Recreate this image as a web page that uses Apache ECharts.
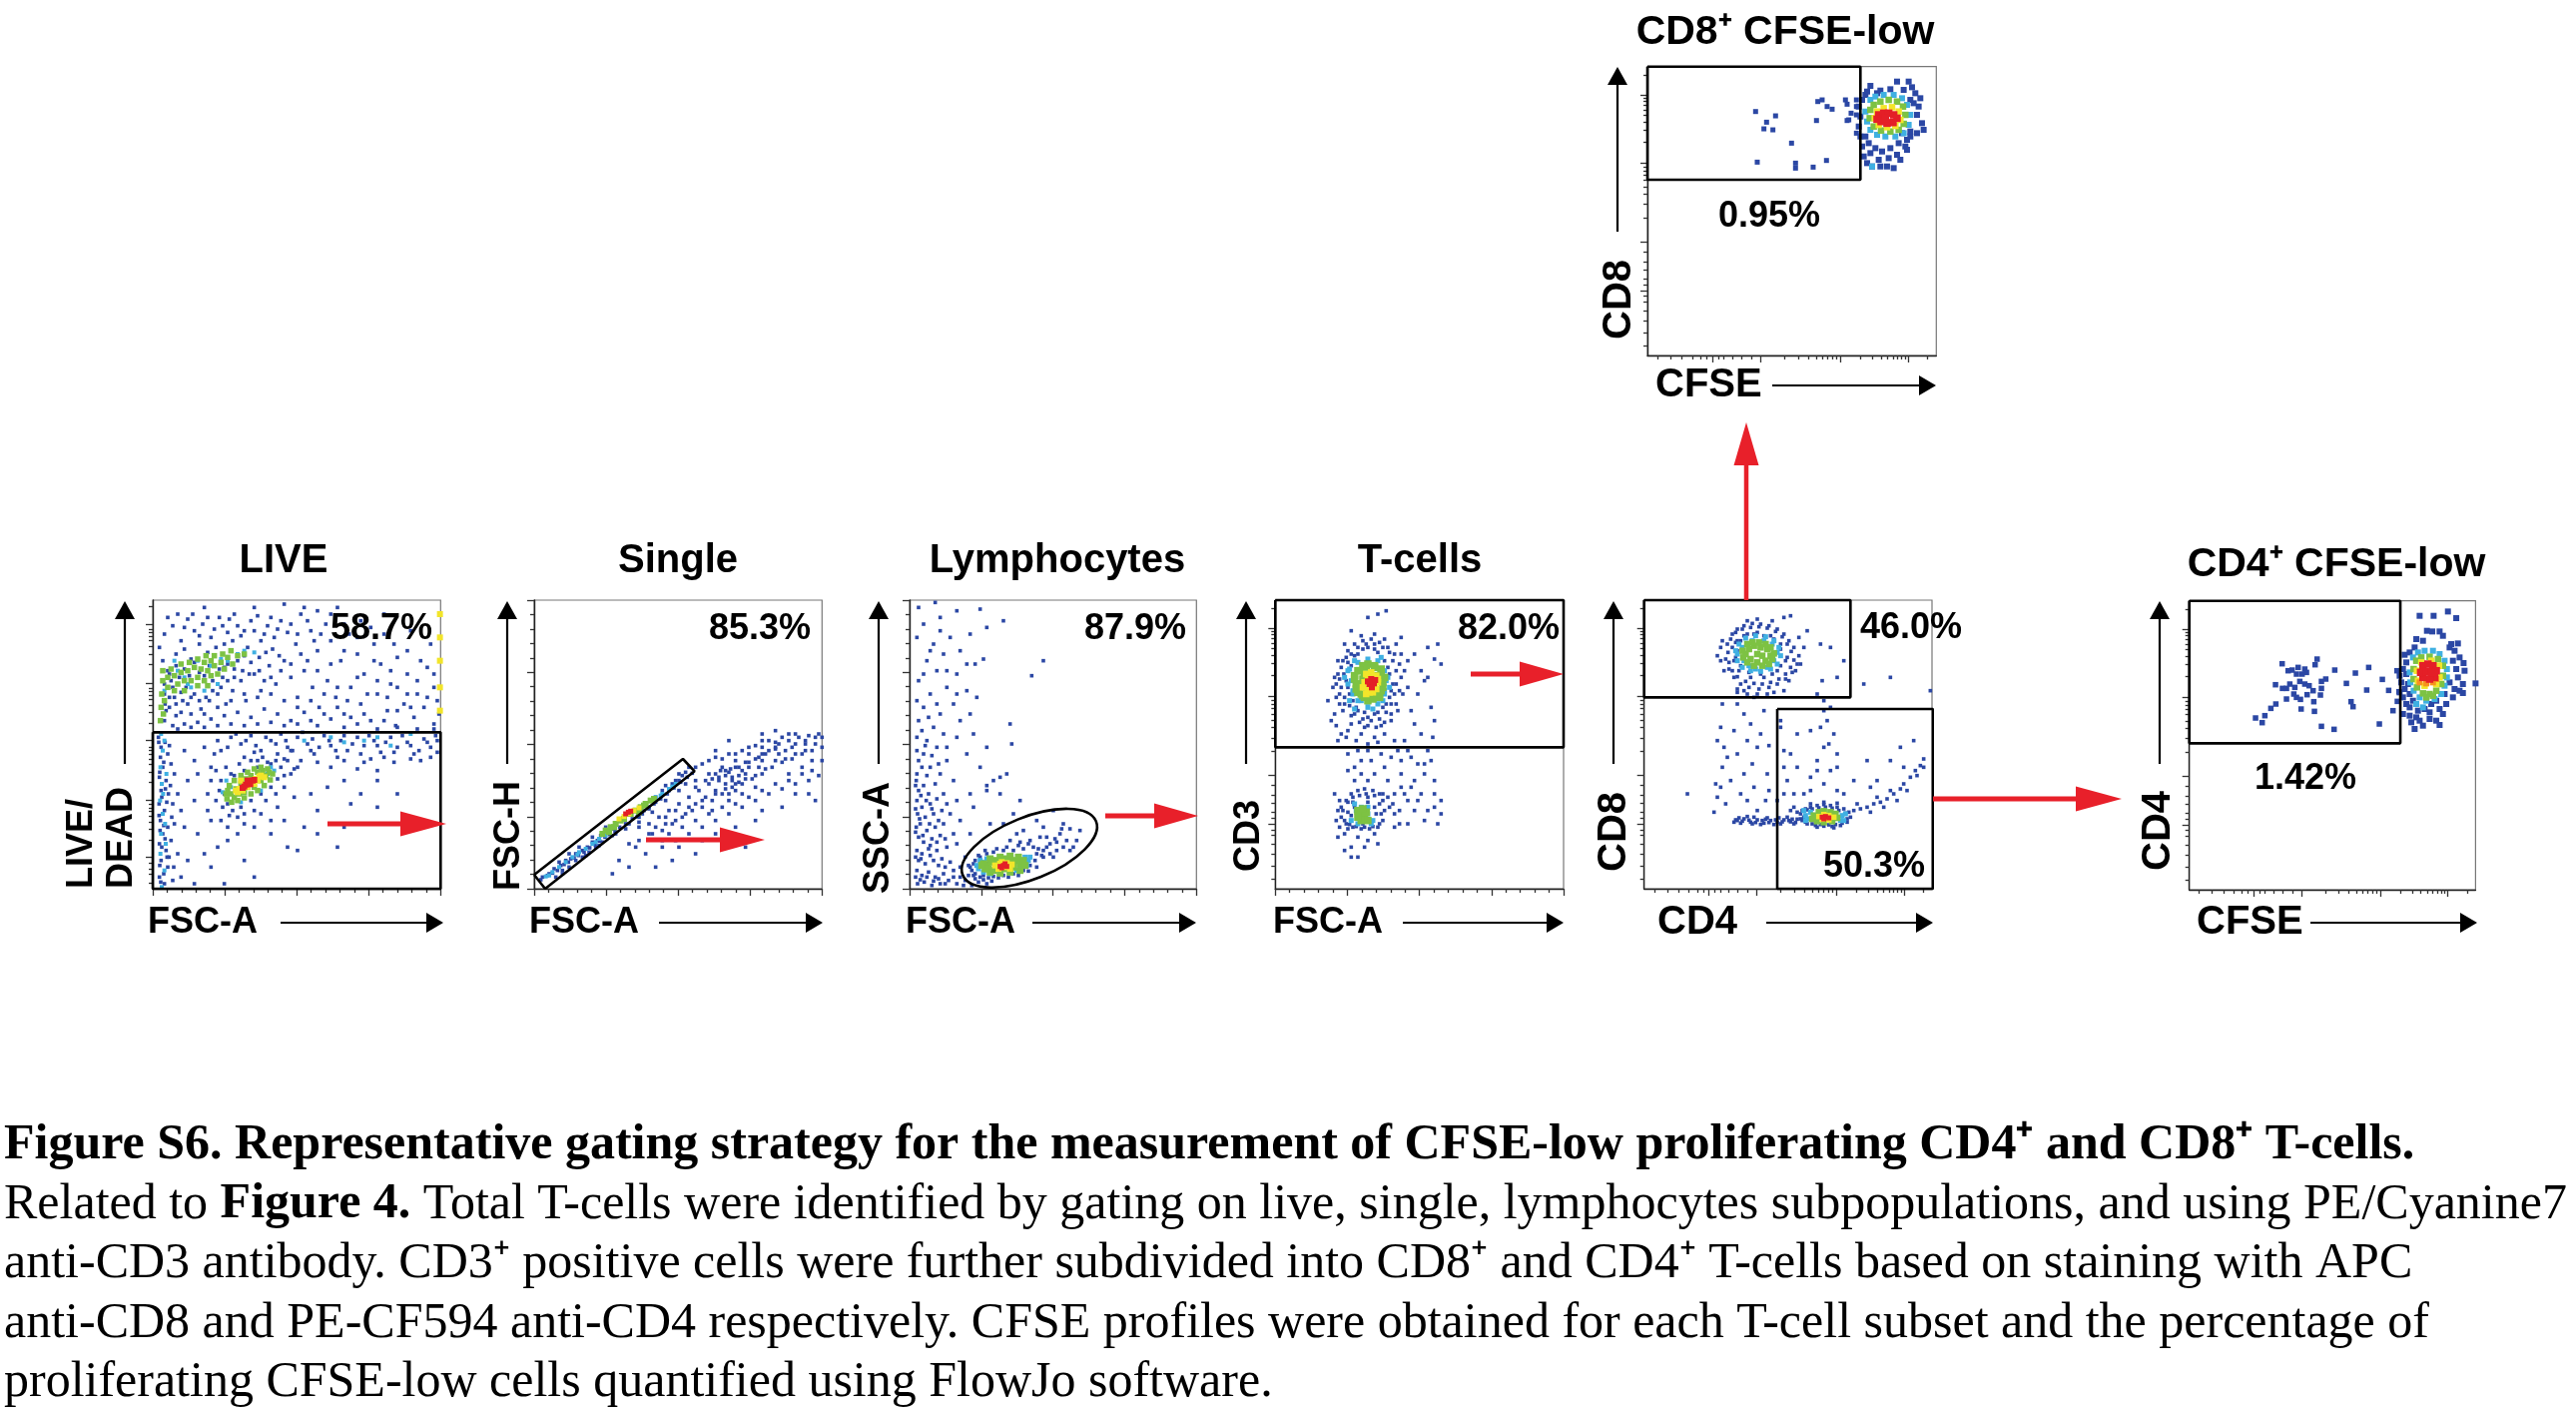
<!DOCTYPE html>
<html>
<head>
<meta charset="UTF-8" />
<title>Figure S6 - gating strategy</title>
<script src="https://cdn.jsdelivr.net/npm/echarts@6/dist/echarts.min.js"></script>
<style>
  html, body { margin: 0; padding: 0; background: #fff; }
  #chart { width: 2580px; height: 1418px; }
</style>
</head>
<body>
<div id="chart"></div>
<script>
// ---- events (channel units of that plot, y grows downward) ----
const LIVE_BLUE = [[60,120],[85,95],[110,140],[130,75],[150,110],[175,90],[200,130],[225,70],[250,115],[270,60],[95,180],[120,165],[140,195],[165,150],[190,175],[215,160],[240,150],[265,140],[290,125],[310,160],[330,110],[350,140],[370,95],[390,130],[410,80],[430,115],[455,150],[470,60],[500,110],[520,170],[545,90],[560,140],[590,200],[615,120],[640,180],[660,240],[690,150],[710,210],[740,270],[760,190],[790,240],[820,300],[850,220],[870,280],[60,300],[75,340],[90,310],[110,355],[130,330],[150,300],[170,345],[195,320],[220,300],[245,330],[265,290],[290,260],[305,320],[330,240],[350,290],[375,215],[395,270],[420,200],[440,250],[460,310],[480,230],[505,280],[525,340],[550,260],[575,310],[600,360],[620,280],[650,330],[680,380],[700,300],[730,350],[755,395],[780,330],[810,370],[840,340],[870,390],[885,360],[650,80],[720,60],[800,110],[860,150],[580,40],[420,30],[330,40],[180,40],[240,220],[280,200],[300,185],[320,205],[345,190],[365,175],[385,165],[405,185],[70,230],[55,200],[45,160],[80,260],[100,270],[125,280],[60,380],[85,395],[120,390],[160,385],[200,375],[240,365],[280,355],[320,370],[360,345],[400,360],[440,380],[480,355],[520,395],[560,375],[600,400],[640,390],[700,405],[760,400],[820,405],[870,405],
  [70,70],[100,60],[120,100],[145,60],[165,125],[190,70],[210,105],[235,95],[255,75],[280,95],[300,110],[320,80],[340,65],[360,120],[380,70],[400,105],[440,90],[460,120],[490,80],[510,140],[530,120],[470,180],[490,200],[440,210],[410,230],[380,250],[360,260],[345,230],[315,240],[295,230],[270,250],[250,260],[230,280],[205,290],[185,310],[165,320],[140,310],[115,320],[95,330],[75,310],[65,350],[95,365],[140,360],[180,360],[220,340],[260,320],[300,300],[340,310],[380,300],[420,320],[460,340],[500,320],[540,300],[580,280],[610,320],[640,250],[670,300],[700,260],[730,310],[760,280],[790,300],[820,260],[850,310],[880,320],[870,240],[830,200],[790,170],[750,150],[720,120],[680,100],[640,130],[600,90],[560,60],[520,50],[480,40],[600,170],[560,210],[520,230],[690,200],[740,230],[800,340],[760,350],[720,380],[660,360],[620,370],[580,340],[540,360],[500,380],[460,390],[420,395],[380,385],[340,390],[300,395],[260,390],[220,395],[180,400],[140,400],[100,405],
  [75,240],[105,250],[135,245],[165,235],[195,215],[225,225],[150,205],[120,225],[95,215],[250,210],[270,225],[180,245],[60,270],[62,330],[85,280],[110,295],[205,260],[235,250],
  [260,430],[290,450],[320,425],[350,470],[380,440],[410,420],[430,460],[460,430],[490,450],[510,480],[540,425],[560,455],[590,440],[610,470],[640,430],[660,455],[690,440],[710,475],[740,430],[760,460],[790,445],[810,480],[840,435],[860,460],[880,440],[880,475],[300,490],[340,500],[420,495],[470,500],[520,505],[600,500],[680,495],[750,505],[830,500],[560,520],[640,525],[700,530],[380,510],[450,525],
  [275,420],[305,440],[335,455],[365,430],[395,450],[425,440],[445,470],[475,415],[505,435],[525,460],[555,440],[575,470],[600,425],[625,450],[650,480],[675,425],[700,455],[725,445],[750,475],[775,425],[800,455],[825,470],[850,445],[875,425],[580,490],[720,490],[800,495],[660,505],[500,470],[400,480],[330,475],[250,460],[220,440],[860,490],
  [42,430],[50,460],[62,445],[48,490],[70,480],[55,520],[80,510],[45,550],[65,560],[90,540],[50,590],[72,600],[44,630],[60,650],[85,630],[48,680],[70,700],[55,720],[90,690],[45,750],[65,770],[80,740],[50,800],[70,820],[45,850],[60,870],[85,860],[100,600],[110,650],[120,700],[100,780],[130,560],[150,500],[120,470],[180,460],[200,520],[210,480],[230,470],[160,540],[190,600],
  [43,445],[58,505],[46,535],[63,585],[52,610],[67,625],[44,665],[58,695],[47,710],[62,735],[52,760],[68,790],[46,815],[58,840],[49,865],[75,455],[78,575],[82,670],[74,790],[88,820],
  [230,560],[240,600],[250,630],[265,650],[290,640],[320,620],[350,600],[380,580],[400,555],[410,520],[395,500],[370,505],[340,520],[300,530],[270,545],[225,590],[255,665],[280,670],[420,545],[430,500],
  [215,530],[245,520],[285,510],[320,500],[355,490],[440,470],[215,620],[235,640],[300,660],[330,650],[365,620],[395,600],[420,580],[260,540],[200,560],[190,650],[230,680],[440,540],[460,520],[330,700],[280,720],[250,740],[180,780],[420,680],[520,720],[600,700],[700,640],[580,760],[760,600],
  [150,620],[200,680],[250,700],[300,690],[350,660],[400,640],[450,610],[500,600],[550,580],[600,560],[650,600],[380,720],[430,760],[480,700],[220,760],[160,720],[130,800],[200,820],[300,800],[380,680],[460,770],[520,650],[700,560],[620,630],[110,850],[150,870],[240,870],[330,850]];
const LIVE_CYAN = [[50,420],[55,470],[48,520],[52,570],[47,620],[55,660],[50,720],[48,780],[60,830],[52,880],[100,230],[120,250],[160,200],[200,215],[250,200],[280,180],[300,170],[330,175],[140,280],[180,290],[220,270],[480,440],[560,430],[700,430],[800,420],[260,580],[270,610],[370,540],[390,530],[235,595],[60,440],[66,540],[56,600],[62,690],[64,750],[246,560],[380,520],[290,625],[350,590],[600,445],[660,440],[740,455],[90,200],[130,270],[230,195],[60,290]];
const LIVE_GREEN = [[55,260],[52,300],[50,340],[48,380],[55,230],[70,250],[90,245],[110,235],[130,230],[150,220],[170,225],[190,230],[210,215],[230,205],[160,250],[180,260],[200,245],[140,260],[120,260],[100,270],[200,200],[250,190],[280,185],[300,180],[180,205],[220,240],
  [110,210],[135,205],[160,195],[185,185],[210,185],[235,180],[260,170],[160,275],[190,275],[120,290],[90,290],[70,280],[60,320],[57,360],[80,225],[240,225],[265,210],
  [260,600],[275,585],[290,570],[305,555],[320,545],[340,535],[355,530],[270,610],[285,600],[300,595],[330,580],[350,560],[365,545],[250,590],[375,535],
  [248,615],[262,625],[280,620],[300,612],[320,600],[340,590],[360,575],[378,558],[385,540],[370,525],[350,520],[330,525],[310,535],[290,545],[270,560],[255,575],[245,600]];
const LIVE_YELLOW = [[285,585],[300,575],[320,560],[335,555],[345,548],[295,590],[310,580],[280,595],[330,570],[350,545],[290,560],[340,560],[360,550],[275,590],[888,60],[888,130],[888,200],[888,280],[888,350]];
const LIVE_RED = [[305,572],[315,565],[325,560],[300,578],[318,571],[310,560],[295,582],[330,558]];

const SINGLE_BLUE = [[40,850],[60,840],[75,825],[95,815],[110,800],[125,795],[140,780],[160,770],[175,760],[190,745],[205,740],[215,725],[235,715],[250,705],[200,760],[160,790],[120,820],[80,850],[100,840],[140,800],[180,775],[220,745],[260,720],[300,690],[340,660],[380,625],[420,590],[450,560],[470,535],[400,590],[430,570],[460,545],[380,610],[360,640],[330,670],[410,575],[440,560],[120,780],[90,805],[150,760],[190,730],[230,700],
  [35,858],[55,845],[70,838],[85,830],[105,812],[118,805],[135,792],[148,785],[165,775],[182,762],[198,752],[212,742],[228,730],[242,722],[258,712],[272,700],[290,690],[310,675],[325,668],[345,650],[360,645],[375,630],[395,615],[415,600],[435,582],[455,565],[475,550],[490,538],[100,830],[170,785],[210,755],[250,725],[290,705],[330,685],[370,655],[410,620],[450,590],
  [330,700],[360,690],[390,670],[420,650],[450,630],[480,610],[510,590],[540,570],[570,550],[600,535],[630,520],[660,505],[690,490],[720,470],[750,450],[780,440],[810,430],[840,425],[870,420],[300,750],[330,740],[370,720],[400,710],[430,690],[460,670],[490,650],[520,640],[550,620],[580,600],[610,580],[640,570],[670,555],[700,540],[730,520],[760,505],[790,495],[820,480],[850,470],[880,460],[350,780],[400,760],[440,740],[480,720],[520,700],[560,680],[600,660],[640,640],[680,620],[720,600],[760,585],[800,570],[840,560],[870,545],[450,540],[480,520],[520,510],[560,490],[600,480],[640,470],[680,455],[720,440],[760,430],[800,420],[500,560],[540,540],[580,520],[620,500],[660,480],[700,460],[740,445],[610,560],[650,540],[690,520],[590,570],[630,545],[560,600],[520,620],[600,620],[700,500],[750,480],[820,520],[850,500],[780,540],[560,720],[500,780],[430,800],[380,820],[300,820],[250,840],[620,700],[700,650],[800,600],[860,620],[650,760],[830,440],[740,410],[700,420],[790,460],[600,440],
  [570,560],[590,545],[610,550],[630,565],[550,555],[575,530],[605,525],[640,530],[660,520],[620,590],
  [380,700],[410,690],[440,680],[470,660],[500,630],[530,610],[560,590],[590,585],[620,570],[650,555],[680,545],[710,525],[740,500],[770,495],[800,480],[830,470],[860,450],[880,430],[470,570],[500,580],[530,560],[560,540],[590,530],[620,520],[650,505],[680,495],[710,480],[740,465],[770,470],[800,450],[830,450],[860,430],[500,520],[540,500],[580,495],[620,480],[660,460],[700,440],[740,460],[780,420],[420,720],[460,700],[500,680],[540,660],[580,640],[620,630],[660,610],[700,590],[740,570],[780,560],[820,540],[850,530],[880,500],[450,760],[520,740],[600,720],[680,680],[760,640],[840,600],[560,470],[700,480],[600,600],[640,600],[680,580],[550,650],[480,640],[440,650],[410,670],[360,720],[320,760],[270,800],[400,740]];
const SINGLE_CYAN = [[50,848],[70,835],[90,820],[110,805],[130,790],[150,775],[170,765],[190,750],[210,735],[230,725],[380,610],[400,600],[420,585],[440,570],[60,845],[145,782],[200,745],[395,605],[430,578]];
const SINGLE_GREEN = [[230,710],[245,700],[260,690],[275,680],[305,660],[320,650],[335,640],[350,630],[365,620],[255,700],[285,675],[330,655],[240,715],[345,635],[220,720],[375,615]];
const SINGLE_YELLOW = [[270,675],[285,668],[300,660],[315,650],[330,642]];
const SINGLE_RED = [[290,660],[305,652],[298,655]];

const LYMPH_BLUE = [[38,560],[45,590],[60,575],[75,600],[40,620],[55,640],[80,630],[100,615],[42,660],[65,670],[90,660],[115,650],[38,700],[50,690],[70,710],[95,700],[120,690],[45,730],[60,745],[85,735],[110,725],[40,770],[55,780],[75,765],[100,770],[130,760],[45,800],[65,810],[90,800],[115,795],[140,805],[40,830],[55,845],[75,835],[95,850],[120,840],[150,830],[170,850],[42,870],[62,865],[85,875],[110,870],[135,860],[160,870],[185,860],[205,875],[225,865],[250,870],
  [36,575],[52,605],[68,620],[85,645],[36,645],[48,675],[78,690],[105,680],[36,715],[58,725],[80,755],[100,745],[125,735],[36,790],[52,795],[80,785],[105,815],[125,820],[36,850],[50,858],[70,850],[90,862],[105,855],[125,870],[150,850],[180,875],[195,845],[215,855],[240,858],[265,862],[40,540],[55,520],[70,545],[95,570],[120,600],[140,660],[160,750],[185,790],[170,820],[65,455],[85,485],[105,510],[40,470],[55,410],[75,370],[100,330],[40,320],[130,460],[160,430],[60,240],[80,170],[130,230],[170,170],[110,110],[40,130],[160,300],[200,360],
  [45,500],[60,480],[80,520],[110,540],[130,500],[150,560],[40,430],[70,440],[100,460],[45,380],[90,400],[120,420],[60,340],[110,360],[150,330],[80,300],[130,280],[45,260],[100,230],[160,240],[70,200],[120,180],[190,210],[90,150],[140,130],[200,120],[60,90],[110,70],[160,50],[230,45],[250,100],[300,80],[45,40],[95,25],[190,290],[220,310],[170,380],[210,420],[250,460],[190,480],[230,520],[270,560],[310,540],[320,390],[325,450],[290,600],[250,590],[200,600],[160,620],[210,640],[170,680],[200,720],[150,720],[130,630],[385,245],[420,200],[215,210],[240,195],
  [200,820],[215,800],[230,790],[250,780],[270,775],[300,770],[330,770],[360,765],[390,760],[400,780],[395,800],[380,815],[360,830],[330,840],[300,845],[270,848],[240,845],[215,840],[205,830],[420,770],[440,750],[460,745],[430,730],[470,720],[490,740],[500,705],[480,690],[410,730],[380,740],[350,745],[440,780],[460,770],[500,770],[510,760],[420,700],[400,680],[360,710],[340,720],[320,740],[250,810],[260,830],[420,790],[300,690],[330,660],[260,690],[450,650],[350,620],[290,550],[250,575],
  [210,810],[225,785],[245,770],[280,765],[310,760],[345,755],[375,750],[405,765],[415,785],[400,820],[375,832],[345,845],[315,850],[285,852],[255,852],[230,850],[210,845],[195,815],[455,735],[475,705],[430,760],[450,790],[480,760],[520,740],[530,710]];
const LYMPH_CYAN = [[220,815],[235,805],[250,795],[365,790],[375,800],[240,835],[260,840],[350,820],[340,830],[360,805],[225,825],[230,800],[380,790],[370,815]];
const LYMPH_GREEN = [[250,815],[265,805],[280,800],[300,795],[320,795],[340,800],[350,810],[330,820],[300,825],[270,830],[255,825],[285,815],
  [240,810],[260,795],[290,790],[320,787],[345,790],[360,800],[365,815],[350,830],[320,835],[290,838],[260,835],[245,825],[235,815]];
const LYMPH_YELLOW = [[275,815],[290,810],[310,808],[325,812],[305,820],[285,825],[320,825],[295,805]];
const LYMPH_RED = [[290,818],[300,815],[310,818],[295,822],[305,810]];

const TCELL_BLUE = [[210,240],[225,200],[240,170],[260,150],[285,140],[310,135],[335,145],[360,160],[380,180],[395,210],[400,250],[395,290],[385,330],[370,360],[350,385],[325,400],[300,395],[275,385],[250,365],[230,330],[215,300],[205,270],[235,260],[245,300],[265,340],[290,355],[320,360],[345,340],[365,310],[375,270],[360,220],[270,180],[300,160],[330,175],[250,215],[215,330],[200,360],[240,410],[280,420],[320,430],[350,420],[420,200],[440,180],[460,230],[480,160],[500,195],[510,150],[420,280],[450,300],[490,340],[500,380],[430,350],[220,420],[210,440],[300,450],[410,440],[495,430],[250,110],[300,70],[330,60],[355,50],[320,120],[400,130],[180,320],[190,380],[205,395],
  [220,220],[235,190],[250,180],[270,160],[295,150],[320,150],[345,160],[365,175],[375,200],[385,230],[385,270],[380,300],[370,330],[355,355],[335,375],[310,380],[285,375],[260,360],[245,335],[230,310],[220,280],[215,255],[228,240],[240,280],[255,320],[270,350],[300,370],[330,355],[355,330],[370,290],[365,240],[350,200],[320,165],[285,165],[260,185],[240,205],[225,350],[205,310],[195,280],[210,200],[200,250],[250,390],[290,400],[340,395],[370,380],[390,350],[405,300],[410,230],[400,180],[385,150],[350,135],[280,125],[230,150],[235,430],[265,440],[330,445],[380,440],[470,260],[440,390],[460,420],[480,250],[520,210],
  [220,640],[235,620],[250,600],[270,590],[290,585],[315,590],[335,600],[345,620],[350,650],[345,680],[330,700],[305,705],[280,705],[255,700],[235,690],[220,670],[240,655],[260,640],[300,625],[325,660],[285,690],[200,600],[205,680],[215,700],[240,705],[365,640],[380,600],[400,580],[420,620],[440,650],[470,680],[500,640],[520,620],[510,690],[460,600],[430,580],[380,660],[395,690],[240,480],[260,520],[280,500],[300,470],[320,540],[350,520],[370,490],[400,500],[420,470],[450,510],[470,540],[490,500],[480,470],[300,560],[260,560],[230,720],[250,760],[270,790],[300,740],[330,750],[230,770],[210,730],
  [225,650],[240,625],[255,610],[275,605],[295,600],[320,605],[335,630],[340,660],[335,690],[315,698],[290,700],[265,698],[245,692],[230,680],[255,625],[320,640],[250,665],[300,610],[345,600],[360,610],[375,630],[395,650],[410,600],[450,620],[480,650],[500,600],[440,560],[400,540],[360,560],[280,540],[240,530],[310,500],[270,470],[340,480],[390,470],[430,490],[470,510],[500,560],[520,660],[420,690],[380,700],[270,730],[290,760],[250,790],[320,720],[215,620],[210,650]];
const TCELL_CYAN = [[230,250],[245,225],[260,200],[280,320],[300,340],[330,330],[350,300],[360,250],[340,190],[255,290],[265,650],[280,640],[250,680],[300,660],[310,690],
  [240,230],[250,260],[255,300],[270,320],[300,325],[330,315],[350,290],[355,260],[350,230],[330,200],[300,195],[270,205],[245,320],[260,345],[315,345],[345,320],[365,280],[240,270],[260,630],[300,640],[270,690],[315,680]];
const TCELL_GREEN = [[270,230],[285,215],[300,210],[320,215],[340,225],[350,250],[345,280],[335,300],[310,310],[285,305],[265,285],[260,255],[275,270],[330,245],[290,240],[275,660],[290,670],[280,680],[295,655],
  [260,245],[265,270],[270,295],[290,310],[320,305],[340,290],[345,265],[340,235],[320,220],[295,218],[275,230],[300,320],[280,300],[315,315],[335,310],[285,255],[270,650],[285,645],[270,670],[300,680]];
const TCELL_YELLOW = [[295,240],[310,235],[325,245],[330,265],[300,285],[290,265],[320,280],[305,295],[300,250],[285,280],[315,295],[325,285],[310,245],[330,255],[295,300]];
const TCELL_RED = [[310,255],[318,268],[305,270],[322,258],[312,280],[300,262]];

const CD48_BLUE = [[270,150],[285,120],[300,105],[320,95],[345,88],[370,90],[395,95],[420,105],[440,120],[455,140],[470,160],[485,185],[480,210],[465,235],[445,255],[420,270],[395,280],[365,285],[335,280],[310,270],[290,250],[275,225],[265,195],[290,200],[300,170],[310,140],[330,120],[360,115],[400,125],[430,150],[450,190],[420,230],[380,250],[340,250],[305,230],[330,300],[350,310],[390,300],[300,295],[440,70],[460,65],[510,110],[550,150],[580,160],[600,250],[620,200],[555,260],[250,160],[240,185],
  [280,135],[295,115],[315,105],[340,100],[365,98],[390,102],[415,112],[435,128],[450,150],[462,172],[470,198],[460,220],[445,240],[425,255],[400,265],[375,270],[350,268],[325,262],[300,248],[285,230],[275,205],[272,175],[285,160],[295,145],[320,125],[350,120],[380,125],[410,135],[430,165],[445,200],[430,215],[405,240],[370,240],[335,235],[310,215],[295,190],[300,140],[455,260],[475,230],[490,210],[300,285],[320,290],[360,300],[410,295],[440,290],[250,200],[260,230],[255,140],[330,80],[360,75],[405,80],[485,130],[500,160],
  [300,330],[320,360],[340,390],[290,410],[330,440],[360,460],[300,480],[345,510],[320,540],[280,560],[350,580],[310,600],[260,460],[370,420],[250,580],[330,620],[360,650],[540,300],[560,320],[580,340],[570,380],[590,420],[560,460],[520,410],[540,500],[600,480],[580,530],[520,550],[560,570],[600,590],[440,520],[460,480],[480,420],[430,380],[500,600],[470,640],[440,600],
  [255,330],[380,350],[250,400],[395,455],[240,440],[270,490],[255,520],[390,540],[235,570],[395,590],[265,630],[385,620],[240,610],[560,350],[550,400],[575,450],[540,530],[600,520],[520,590],[470,600],[450,560],[480,520],[420,620],[460,650],
  [300,680],[320,675],[340,685],[360,678],[380,688],[400,680],[420,685],[440,678],[460,684],[480,676],[310,688],[350,670],[390,672],[430,690],[470,690],[290,685],
  [295,678],[315,682],[335,679],[355,686],[375,680],[395,686],[415,678],[435,684],[455,680],[475,686],[305,672],[345,690],[385,676],[425,672],[465,676],[330,668],[370,692],[410,692],[450,670],
  [490,660],[505,645],[520,640],[540,635],[560,632],[580,635],[600,640],[620,645],[635,655],[640,670],[630,685],[610,695],[585,698],[560,697],[535,695],[510,690],[495,680],[500,670],
  [480,655],[495,650],[510,648],[525,645],[545,642],[565,640],[585,643],[605,650],[625,658],[630,675],[615,688],[595,692],[575,693],[550,692],[525,690],[505,685],[490,675],[520,630],[560,625],[600,628],[540,700],[590,702],
  [650,650],[670,645],[690,640],[710,630],[730,625],[750,615],[770,600],[790,585],[800,570],[820,550],[835,530],[850,515],[860,495],[700,655],[740,640],[780,620],[810,590],[660,630],[720,610],[760,590],[840,545],[800,520],[790,460],[760,500],[700,580],[620,600],[650,560],[690,500],[720,560],[860,520],
  [230,655],[430,400],[440,470],[680,270],[760,250],[830,440],[880,290],[150,600]];
const CD48_CYAN = [[300,180],[320,200],[335,215],[355,225],[390,220],[410,200],[420,175],[405,150],[380,140],[345,140],[315,160],[520,655],[515,675],[615,665],[610,680],[505,665],
  [305,150],[295,170],[300,200],[315,220],[340,230],[370,232],[400,225],[420,210],[430,185],[425,160],[410,140],[385,128],[355,125],[325,132],[500,650],[625,660],[620,680],[505,680]];
const CD48_GREEN = [[335,165],[350,155],[370,160],[390,165],[400,185],[385,200],[360,205],[340,195],[325,180],[360,180],[375,185],[530,665],[545,655],[560,652],[580,655],[595,660],[600,672],[585,682],[560,685],[540,682],[525,675],
  [330,150],[345,145],[365,145],[385,150],[400,160],[410,178],[405,195],[395,210],[375,215],[350,215],[330,205],[318,190],[316,170]];
const CD48_YELLOW = [[545,668],[560,662],[575,665],[590,670],[555,676],[575,678]];
const CD48_RED = [[555,670],[565,668],[575,672],[560,675]];

const CD4C_LOW = [[317,209],[335,230],[347,228],[365,220],[385,225],[390,235],[377,240],[360,240],[416,212],[422,195],[297,272],[318,283],[330,283],[340,270],[355,280],[370,262],[385,270],[398,275],[410,290],[352,300],[360,310],[330,315],[372,316],[392,302],[435,262],[435,283],[448,255],[475,228],[510,268],[537,237],[577,220],[618,256],[637,289],[571,288],[432,303],[412,323],[524,323],[530,338],[414,352],[374,345],[298,330],[283,343],[265,365],[257,386],[237,372],[435,397],[473,406],[609,390],[662,230],[668,293],[650,350],[663,322]];
const CD4C_BLUE = [[730,65],[772,65],[815,52],[840,72],[752,110],[768,112],[790,112],[720,135],[740,140],[800,125],[825,150],[845,148],[715,160],[700,175],[685,182],[690,205],[680,225],[670,245],[675,265],[685,285],[670,295],[680,310],[690,330],[700,340],[680,360],[700,365],[720,370],[705,385],[730,380],[760,375],[780,380],[740,395],[715,405],[790,393],[760,355],[790,345],[810,330],[830,310],[850,290],[860,270],[845,250],[865,230],[862,207],[850,190],[835,170],[820,160],[830,200],[840,225],[820,265],[835,285],[860,297],[898,268],[805,300],[780,320],[765,330],[800,360],[745,345],[725,350],[710,320],[700,300],[695,270],[690,240]];
const CD4C_CYAN = [[710,190],[725,175],[745,170],[770,170],[790,180],[805,200],[812,225],[812,250],[805,275],[795,300],[775,315],[750,320],[730,310],[712,290],[702,265],[700,235],[740,340],[720,330]];
const CD4C_GREEN = [[720,200],[735,190],[760,188],[785,195],[800,215],[800,245],[795,270],[780,290],[760,300],[740,298],[722,280],[712,255],[712,225],[750,310],[770,305]];
const CD4C_YELLOW = [[735,205],[765,200],[788,215],[790,250],[780,270],[745,275],[725,260],[722,230]];
const CD4C_ORANGE = [[730,265],[750,268],[770,265],[780,255]];
const CD4C_RED = [[740,215],[755,210],[770,215],[780,230],[775,250],[760,255],[740,250],[733,235],[750,232],[765,235]];

const CD8C_LOW = [[535,335],[568,367],[595,348],[560,387],[587,390],[643,430],[540,487],[655,490],[655,505],[708,502],[748,482],[718,362],[722,305],[735,300],[750,320],[765,328],[805,300],[810,313],[815,360],[822,340],[838,300],[838,320],[838,345],[838,400],[810,362]];
const CD8C_BLUE = [[880,258],[910,272],[940,268],[960,245],[995,245],[1005,262],[1015,280],[1030,295],[1025,320],[1035,370],[1040,390],[1020,400],[1000,410],[990,450],[970,480],[950,505],[930,500],[910,500],[885,500],[870,490],[860,470],[855,440],[850,410],[845,380],[850,350],[845,320],[855,300],[865,285],[900,280],[980,270],[1010,310],[1020,345],[1000,395],[990,420],[965,430],[940,445],[915,455],[895,445],[875,430],[865,410],[880,460],[905,480],[935,475],[960,465],[985,440],[975,400],[870,275],[1000,300]];
const CD8C_CYAN = [[880,300],[895,290],[920,285],[950,285],[975,295],[990,315],[1000,345],[995,375],[980,400],[955,410],[925,410],[900,405],[880,390],[870,365],[865,335],[885,500]];
const CD8C_GREEN = [[890,315],[910,305],[935,300],[960,305],[978,320],[985,345],[980,372],[965,390],[940,395],[912,392],[890,380],[878,355],[880,330]];
const CD8C_YELLOW = [[900,335],[920,325],[945,322],[965,335],[970,360],[955,378],[930,382],[905,375],[893,355]];
const CD8C_RED = [[905,345],[920,340],[935,340],[950,345],[960,355],[948,368],[930,370],[912,365],[900,358],[925,355]];

// gates, same units as the events of each plot
const GATE_LIVE = [[25,415],[890,415],[890,885],[25,885],[25,415]];
const GATE_SINGLE = [[15,843],[48,885],[497,532],[462,495],[15,843]];
const GATE_LYMPH = [[378,763,216,93,22]]; // centre x, centre y, radius a, radius b, tilt deg
const GATE_TCELL = [[22,18],[888,18],[888,460],[22,460],[22,18]];
const GATE_CD8 = [[20,18],[640,18],[640,310],[20,310],[20,18]];
const GATE_CD4 = [[420,345],[888,345],[888,885],[420,885],[420,345]];
const GATE_CD4C = [[38,20],[672,20],[672,448],[38,448],[38,20]];
const GATE_CD8C = [[210,200],[850,200],[850,540],[210,540],[210,200]];

// axis ticks, percent of the plot frame
const LIN_MAJOR = [0,25,50,75,100];
const LIN_MINOR = [5,10,15,20,30,35,40,45,55,60,65,70,80,85,90,95];
const LOG_MAJOR = [11,30.8,51.3,71.2,91.7];
const LOG_MINOR = [2,5,7,9,17,20.7,23.2,25.2,26.8,28.1,29.3,36.9,40.5,43,45,46.6,47.9,49.1,57.4,61,63.5,65.5,67.1,68.4,69.6,77.8,81.4,83.9,85.9,87.5,88.8,90,97.8];
const BIEX_MAJOR = [22.5,39.2,66.7,90.3];
const BIEX_MINOR = [3.5,8,12,15.5,18.5,20.5,24.5,26.5,29.5,32.5,36,47.5,52.3,55.8,58.4,60.6,62.4,64,65.4,73.8,78,80.9,83.2,85.1,86.6,88,89.2,97];

const PCT_LABELS = ['58.7%','85.3%','87.9%','82.0%','46.0%','50.3%','1.42%','0.95%'];

// ---- layout ----
const FONT = '"Liberation Sans", Arial, sans-serif';
const SERIF = '"Liberation Serif", "Times New Roman", serif';
const COL = { blue:'#2b47a4', cyan:'#3fb0e2', green:'#7dc243', yellow:'#f2e52a', orange:'#f6921e', red:'#e41f27' };
const RED = '#e8202a';

const panels = [
  { box:[153,601,288.3,289], xr:[25,890], yr:[18,885], xt:'lin', yt:'log',
    layers:[[LIVE_BLUE,'blue',3.6],[LIVE_CYAN,'cyan',4],[LIVE_GREEN,'green',5.5],[LIVE_YELLOW,'yellow',6],[LIVE_RED,'red',6]], gates:[GATE_LIVE] },
  { box:[535,601,288.3,289], xr:[15,880], yr:[18,885], xt:'lin', yt:'lin',
    layers:[[SINGLE_BLUE,'blue',3.6],[SINGLE_CYAN,'cyan',4],[SINGLE_GREEN,'green',6],[SINGLE_YELLOW,'yellow',5],[SINGLE_RED,'red',5]], gates:[GATE_SINGLE] },
  { box:[911,601,287.3,289], xr:[18,880], yr:[18,885], xt:'lin', yt:'lin',
    layers:[[LYMPH_BLUE,'blue',3.6],[LYMPH_CYAN,'cyan',5],[LYMPH_GREEN,'green',7],[LYMPH_YELLOW,'yellow',6],[LYMPH_RED,'red',5]], gates:[], ellipse:GATE_LYMPH },
  { box:[1277.3,601,288.7,289], xr:[22,888], yr:[18,885], xt:'lin', yt:'biex',
    layers:[[TCELL_BLUE,'blue',3.6],[TCELL_CYAN,'cyan',5],[TCELL_GREEN,'green',7.5],[TCELL_YELLOW,'yellow',6.5],[TCELL_RED,'red',6]], gates:[GATE_TCELL] },
  { box:[1646.7,601,288.3,289], xr:[20,885], yr:[18,885], xt:'biex', yt:'biex',
    layers:[[CD48_BLUE,'blue',3.6],[CD48_CYAN,'cyan',5],[CD48_GREEN,'green',6.5],[CD48_YELLOW,'yellow',5.5],[CD48_RED,'red',5]], gates:[GATE_CD8, GATE_CD4] },
  { box:[2192.7,601.7,286.7,289.3], xr:[38,898], yr:[20,888], xt:'biex', yt:'biex', sym:'rect',
    layers:[[CD4C_LOW,'blue',5.5],[CD4C_BLUE,'blue',6],[CD4C_CYAN,'cyan',6],[CD4C_GREEN,'green',6.5],[CD4C_YELLOW,'yellow',6.5],[CD4C_ORANGE,'orange',6],[CD4C_RED,'red',7.5]], gates:[GATE_CD4C] },
  { box:[1650,66.7,289.3,289.3], xr:[210,1078], yr:[200,1068], xt:'biex', yt:'biex', sym:'rect',
    layers:[[CD8C_LOW,'blue',5],[CD8C_BLUE,'blue',6],[CD8C_CYAN,'cyan',6],[CD8C_GREEN,'green',6.5],[CD8C_YELLOW,'yellow',6.5],[CD8C_RED,'red',7.5]], gates:[GATE_CD8C] }
];

const TICKS = { lin:[LIN_MAJOR, LIN_MINOR], log:[LOG_MAJOR, LOG_MINOR], biex:[BIEX_MAJOR, BIEX_MINOR] };

const grids = [], xAxes = [], yAxes = [], series = [];

function tickAxis(p, pos, vals, len, withLine) {
  return {
    gridIndex: p, type: 'value', min: 0, max: 100, position: pos,
    axisLine: { show: withLine, onZero: false, lineStyle: { color: '#222', width: 1.4 } },
    axisTick: { show: true, inside: false, length: len, customValues: vals, lineStyle: { color: '#333', width: 1.3 } },
    axisLabel: { show: false }, splitLine: { show: false }
  };
}

panels.forEach((pn, p) => {
  const [l, t, w, h] = pn.box;
  grids.push({ left: l, top: t, width: w, height: h, show: true, borderColor: '#777', borderWidth: 1.2, backgroundColor: 'transparent' });
  xAxes.push({ gridIndex: p, type: 'value', min: pn.xr[0], max: pn.xr[1], show: false });
  xAxes.push(tickAxis(p, 'bottom', TICKS[pn.xt][0], 7, true));
  xAxes.push(tickAxis(p, 'bottom', TICKS[pn.xt][1], 4, false));
  yAxes.push({ gridIndex: p, type: 'value', min: pn.yr[0], max: pn.yr[1], inverse: true, show: false });
  yAxes.push(tickAxis(p, 'left', TICKS[pn.yt][0], 7, true));
  yAxes.push(tickAxis(p, 'left', TICKS[pn.yt][1], 4, false));

  pn.layers.forEach(([pts, c, size]) => {
    series.push({
      type: 'scatter', xAxisIndex: 3 * p, yAxisIndex: 3 * p, data: pts,
      symbol: pn.sym || 'rect', symbolSize: size, itemStyle: { color: COL[c], opacity: 1 },
      silent: true
    });
  });
  pn.gates.forEach(gt => {
    series.push({
      type: 'line', xAxisIndex: 3 * p, yAxisIndex: 3 * p, data: gt, symbol: 'none', clip: false,
      lineStyle: { color: '#000', width: 2.6 }, z: 5, silent: true
    });
  });
  if (pn.ellipse) {
    series.push({
      type: 'custom', xAxisIndex: 3 * p, yAxisIndex: 3 * p, data: pn.ellipse, clip: false, z: 5,
      encode: { x: 0, y: 1 }, silent: true,
      renderItem: (params, api) => {
        const c = api.coord([api.value(0), api.value(1)]);
        const s = api.size([api.value(2), api.value(3)]);
        return {
          type: 'ellipse', x: c[0], y: c[1], rotation: api.value(4) * Math.PI / 180,
          shape: { cx: 0, cy: 0, rx: Math.abs(s[0]), ry: Math.abs(s[1]) },
          style: { fill: 'none', stroke: '#000', lineWidth: 2.6 }
        };
      }
    });
  }
});

// ---- annotations ----
const g = [];
function text(x, y, s, size) {
  g.push({ type: 'text', x, y, z: 100,
    style: { text: s, fontFamily: FONT, fontWeight: 'bold', fontSize: size, fill: '#000', align: 'center', verticalAlign: 'middle' } });
}
function vtext(x, yBottom, s, size) {
  g.push({ type: 'text', x, y: yBottom, rotation: Math.PI / 2, z: 100,
    style: { text: s, fontFamily: FONT, fontWeight: 'bold', fontSize: size, fill: '#000', align: 'left', verticalAlign: 'middle' } });
}
function ltext(x, y, s, size) {
  g.push({ type: 'text', x, y, z: 100,
    style: { text: s, fontFamily: FONT, fontWeight: 'bold', fontSize: size, fill: '#000', align: 'left', verticalAlign: 'middle' } });
}
function upArrow(x, yBottom, yTip) {
  g.push({ type: 'line', z: 100, shape: { x1: x, y1: yBottom, x2: x, y2: yTip + 16 }, style: { stroke: '#000', lineWidth: 2.2 } });
  g.push({ type: 'polygon', z: 100, shape: { points: [[x - 10, yTip + 18], [x + 10, yTip + 18], [x, yTip]] }, style: { fill: '#000' } });
}
function rightArrow(x1, xTip, y) {
  g.push({ type: 'line', z: 100, shape: { x1, y1: y, x2: xTip - 16, y2: y }, style: { stroke: '#000', lineWidth: 2.2 } });
  g.push({ type: 'polygon', z: 100, shape: { points: [[xTip - 17, y - 10], [xTip - 17, y + 10], [xTip, y]] }, style: { fill: '#000' } });
}
function redRight(x1, xHead, xTip, y) {
  g.push({ type: 'line', z: 101, shape: { x1, y1: y, x2: xHead + 2, y2: y }, style: { stroke: RED, lineWidth: 5 } });
  g.push({ type: 'polygon', z: 101, shape: { points: [[xHead, y - 12.5], [xHead, y + 12.5], [xTip, y]] }, style: { fill: RED } });
}
function redUp(x, yBottom, yHead, yTip) {
  g.push({ type: 'line', z: 101, shape: { x1: x, y1: yBottom, x2: x, y2: yHead - 2 }, style: { stroke: RED, lineWidth: 4.5 } });
  g.push({ type: 'polygon', z: 101, shape: { points: [[x - 12.5, yHead], [x + 12.5, yHead], [x, yTip]] }, style: { fill: RED } });
}

// titles
text(284, 562, 'LIVE', 40);
text(679, 562, 'Single', 40);
text(1059, 562, 'Lymphocytes', 40);
text(1422, 562, 'T-cells', 40);
text(2340, 566, 'CD4\u207A CFSE-low', 41);
text(1788, 33, 'CD8\u207A CFSE-low', 41);

// percentages
text(382, 630, PCT_LABELS[0], 36);
text(761, 630, PCT_LABELS[1], 36);
text(1137, 630, PCT_LABELS[2], 36);
text(1511, 630, PCT_LABELS[3], 36);
text(1914, 629, PCT_LABELS[4], 36);
text(1877, 868, PCT_LABELS[5], 36);
text(2309, 780, PCT_LABELS[6], 36);
text(1772, 217, PCT_LABELS[7], 36);

// axis names and arrows
ltext(148, 924, 'FSC-A', 36); rightArrow(281, 444, 924);
ltext(530, 924, 'FSC-A', 36); rightArrow(660, 824, 924);
ltext(907, 924, 'FSC-A', 36); rightArrow(1034, 1198, 924);
ltext(1275, 924, 'FSC-A', 36); rightArrow(1405, 1566, 924);
ltext(1660, 924, 'CD4', 40); rightArrow(1769, 1936, 924);
ltext(2200, 924, 'CFSE', 40); rightArrow(2314, 2481, 924);
ltext(1658, 386, 'CFSE', 40); rightArrow(1775, 1939, 386);

vtext(82, 890, 'LIVE/', 36); vtext(122, 890, 'DEAD', 36); upArrow(125, 765, 602);
vtext(510, 892, 'FSC-H', 36); upArrow(508, 765, 602);
vtext(880, 895, 'SSC-A', 36); upArrow(880, 765, 602);
vtext(1251, 873, 'CD3', 36); upArrow(1248, 765, 602);
vtext(1617, 873, 'CD8', 40); upArrow(1616, 765, 602);
vtext(2162, 872, 'CD4', 40); upArrow(2163, 765, 602);
vtext(1622, 340, 'CD8', 40); upArrow(1620, 232, 67);

// red flow arrows
redRight(328, 401, 447, 825);
redRight(647, 721, 766, 841);
redRight(1107, 1156, 1200, 817);
redRight(1473, 1522, 1566, 675);
redRight(1936, 2079, 2125, 800);
redUp(1749, 601, 466, 423);

// caption
const CAP = [
  '{b|Figure S6. Representative gating strategy for the measurement of CFSE-low proliferating CD4\u207A and CD8\u207A T-cells.}',
  '{n|Related to }{b|Figure 4.}{n| Total T-cells were identified by gating on live, single, lymphocytes subpopulations, and using PE/Cyanine7}',
  '{n|anti-CD3 antibody. CD3\u207A positive cells were further subdivided into CD8\u207A and CD4\u207A T-cells based on staining with APC}',
  '{n|anti-CD8 and PE-CF594 anti-CD4 respectively. CFSE profiles were obtained for each T-cell subset and the percentage of}',
  '{n|proliferating CFSE-low cells quantified using FlowJo software.}'
];
const capRich = {
  n: { fontFamily: SERIF, fontSize: 50, fontWeight: 'normal', fill: '#000', color: '#000' },
  b: { fontFamily: SERIF, fontSize: 50, fontWeight: 'bold', fill: '#000', color: '#000' }
};
CAP.forEach((s, i) => {
  g.push({ type: 'text', x: 4, y: 1147 + i * 59.5, z: 100,
    style: { text: s, rich: capRich, fontFamily: SERIF, fontSize: 50, fill: '#000', align: 'left', verticalAlign: 'middle' } });
});

const chart = echarts.init(document.getElementById('chart'), null, { renderer: 'canvas' });
chart.setOption({
  backgroundColor: '#fff',
  animation: false,
  grid: grids,
  xAxis: xAxes,
  yAxis: yAxes,
  series: series,
  graphic: { elements: g }
});
</script>
</body>
</html>
